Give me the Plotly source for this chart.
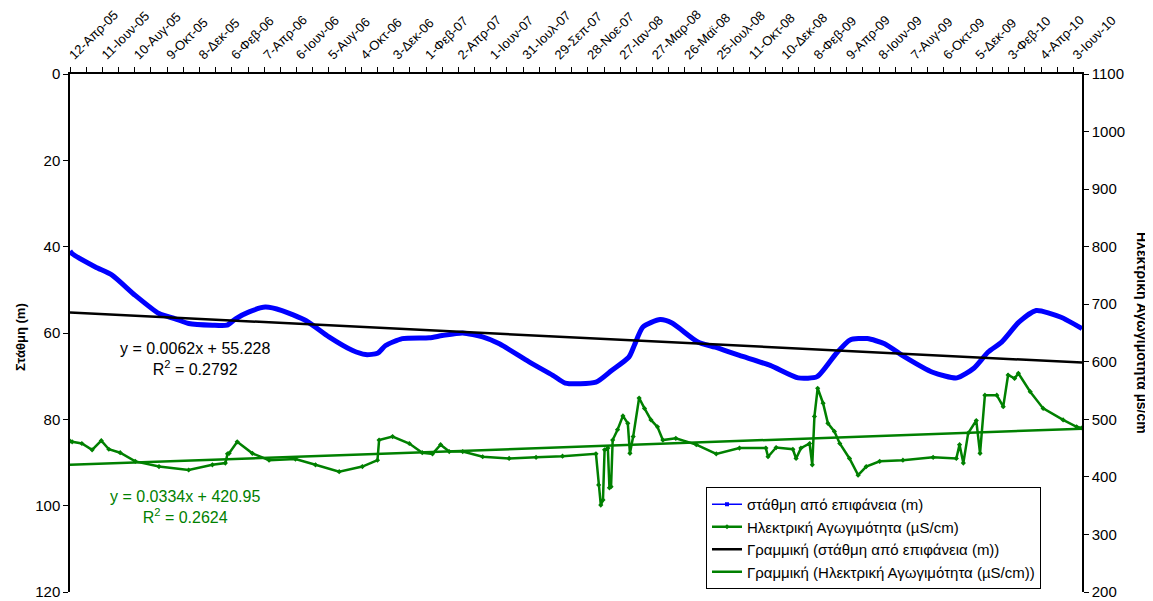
import plotly.graph_objects as go

# category labels shown on the top axis (every 60 records)
date_labels = [
    "12-Απρ-05", "11-Ιουν-05", "10-Αυγ-05", "9-Οκτ-05", "8-Δεκ-05", "6-Φεβ-06",
    "7-Απρ-06", "6-Ιουν-06", "5-Αυγ-06", "4-Οκτ-06", "3-Δεκ-06", "1-Φεβ-07",
    "2-Απρ-07", "1-Ιουν-07", "31-Ιουλ-07", "29-Σεπ-07", "28-Νοε-07", "27-Ιαν-08",
    "27-Μαρ-08", "26-Μαϊ-08", "25-Ιουλ-08", "11-Οκτ-08", "10-Δεκ-08", "8-Φεβ-09",
    "9-Απρ-09", "8-Ιουν-09", "7-Αυγ-09", "6-Οκτ-09", "5-Δεκ-09", "3-Φεβ-10",
    "4-Απρ-10", "3-Ιουν-10",
]
n_records = 1876

# water level below surface (m), record index -> value
level_idx = [0, 4, 47, 78, 121, 165, 195, 220, 264, 291, 307, 332, 362, 393, 437,
             480, 523, 548, 570, 585, 616, 666, 690, 728, 765, 796, 851, 895, 918,
             975, 1004, 1036, 1046, 1062, 1094, 1116, 1164, 1196, 1241, 1298, 1350,
             1385, 1420, 1446, 1478, 1510, 1548, 1599, 1644, 1676, 1702, 1727, 1759,
             1791, 1836, 1876]
level_m = [41.0, 41.6, 44.7, 46.6, 51.3, 55.5, 56.7, 57.8, 58.2, 58.2, 56.7, 55.1,
           54.0, 54.8, 57.1, 60.9, 64.0, 65.0, 64.7, 62.9, 61.3, 61.1, 60.6, 60.0,
           60.9, 62.5, 66.7, 69.8, 71.6, 71.4, 68.7, 65.6, 62.9, 58.6, 56.9, 57.7,
           62.1, 63.3, 65.2, 67.5, 70.4, 70.1, 64.8, 61.6, 61.3, 62.5, 65.6, 69.1,
           70.4, 68.1, 64.4, 62.1, 57.5, 54.8, 56.3, 59.0]

# electrical conductivity (µS/cm)
ec_idx = [0, 4, 22, 41, 58, 72, 93, 121, 165, 220, 264, 288, 292, 295, 310, 338,
          369, 418, 455, 499, 542, 570, 573, 598, 629, 653, 672, 687, 703, 728, 765,
          814, 864, 913, 975, 980, 984, 988, 991, 997, 1000, 1003, 1006, 1015, 1025,
          1034, 1038, 1044, 1055, 1065, 1077, 1089, 1099, 1123, 1161, 1198, 1241,
          1290, 1294, 1309, 1340, 1346, 1355, 1371, 1376, 1380, 1386, 1396, 1405,
          1417, 1427, 1445, 1461, 1476, 1501, 1544, 1600, 1643, 1649, 1656, 1665,
          1680, 1687, 1696, 1718, 1730, 1739, 1751, 1758, 1780, 1804, 1841, 1866, 1876]
ec_vals = [462, 461, 458, 447, 463, 448, 442, 427, 418, 412, 421, 424, 440, 441, 461,
           441, 429, 431, 421, 409, 418, 429, 464, 470, 458, 442, 440, 456, 444, 444,
           435, 432, 434, 436, 440, 386, 351, 360, 447, 450, 381, 383, 464, 482, 506,
           493, 441, 470, 537, 519, 499, 487, 464, 467, 456, 440, 450, 450, 435, 451,
           448, 432, 450, 458, 421, 505, 554, 528, 493, 479, 458, 432, 403, 418, 427,
           429, 434, 432, 456, 424, 476, 498, 441, 542, 542, 522, 577, 571, 580, 548,
           519, 499, 487, 485]

# linear trendlines as reported on the chart
level_slope, level_icpt, level_r2 = 0.0062, 55.228, "0.2792"
ec_slope, ec_icpt, ec_r2 = 0.0334, 420.95, "0.2624"

FONT = "Arial, Liberation Sans, sans-serif"
BLUE = "#0000ff"
GREEN = "#008000"

# page body has an 8px margin, so the figure is sized to fit the window
W, H = 1145, 593
ML, MT, PW, PH = 62, 66, 1012, 518
OFF_X, OFF_Y = 10, 8


def px_x(px):
    """paper x for an absolute window pixel"""
    return (px - OFF_X - ML + 2) / PW


def px_y(py):
    """paper y for an absolute window pixel"""
    return (MT + PH - (py - OFF_Y)) / PH


fig = go.Figure()

# thick blue curve (dense markers in the original), legend shown with a thin line
fig.add_trace(go.Scatter(
    x=level_idx, y=level_m, mode="lines",
    line=dict(color=BLUE, width=5, shape="spline", smoothing=0.6),
    showlegend=False, hoverinfo="x+y",
))
fig.add_trace(go.Scatter(
    x=[None], y=[None], mode="lines+markers",
    line=dict(color=BLUE, width=1.5),
    marker=dict(symbol="square", size=4, color=BLUE),
    name="στάθμη από επιφάνεια (m)",
))
fig.add_trace(go.Scatter(
    x=ec_idx, y=ec_vals, mode="lines+markers", yaxis="y2",
    line=dict(color=GREEN, width=2.5),
    marker=dict(symbol="diamond", size=4, color=GREEN),
    name="Ηλεκτρική Αγωγιμότητα (µS/cm)",
))
trend_x = [0, n_records]
fig.add_trace(go.Scatter(
    x=trend_x, y=[level_icpt + level_slope * v for v in trend_x], mode="lines",
    line=dict(color="black", width=2.5),
    name="Γραμμική (στάθμη από επιφάνεια (m))",
))
fig.add_trace(go.Scatter(
    x=trend_x, y=[ec_icpt + ec_slope * v for v in trend_x], mode="lines", yaxis="y2",
    line=dict(color=GREEN, width=2.5),
    name="Γραμμική (Ηλεκτρική Αγωγιμότητα (µS/cm))",
))

tick_vals = list(range(0, n_records, 30))
tick_text = [date_labels[i // 2] if i % 2 == 0 and i // 2 < len(date_labels) else " "
             for i in range(len(tick_vals))]

fig.update_layout(
    width=W, height=H,
    margin=dict(l=ML, r=W - ML - PW, t=MT, b=H - MT - PH),
    paper_bgcolor="white", plot_bgcolor="white",
    font=dict(family=FONT, size=13, color="black"),
    xaxis=dict(
        range=[0, n_records], side="top", showgrid=False, zeroline=False,
        showline=True, linecolor="black", linewidth=1.5, automargin=False,
        tickmode="array", tickvals=tick_vals, ticktext=tick_text,
        ticks="outside", ticklen=5, tickcolor="black", tickangle=-45,
        tickfont=dict(size=13),
    ),
    yaxis=dict(
        range=[120, 0], tickvals=[0, 20, 40, 60, 80, 100, 120], automargin=False,
        showgrid=False, zeroline=False, showline=True, linecolor="black",
        linewidth=1.5, ticks="outside", ticklen=5, tickcolor="black",
        tickfont=dict(size=15),
    ),
    yaxis2=dict(
        range=[200, 1100], dtick=100, overlaying="y", side="right", automargin=False,
        showgrid=False, zeroline=False, showline=True, linecolor="black",
        linewidth=1.5, ticks="outside", ticklen=5, tickcolor="black",
        tickfont=dict(size=15),
    ),
    legend=dict(
        x=px_x(706), y=px_y(487), xanchor="left", yanchor="top",
        bgcolor="white", bordercolor="black", borderwidth=1,
        font=dict(size=15), tracegroupgap=0, itemwidth=30,
    ),
    showlegend=True,
)

annotations = [
    dict(text="<b>Στάθμη (m)</b>", x=px_x(20), y=px_y(337), xref="paper", yref="paper",
         textangle=-90, showarrow=False, font=dict(size=13),
         xanchor="center", yanchor="middle"),
    dict(text="<b>Ηλεκτρική Αγωγιμότητα µs/cm</b>", x=px_x(1142), y=px_y(333),
         xref="paper", yref="paper", textangle=90, showarrow=False,
         font=dict(size=14), xanchor="center", yanchor="middle"),
    dict(text=f"y = {level_slope}x + {level_icpt}<br>R<sup>2</sup> = {level_r2}",
         x=px_x(195), y=px_y(359), xref="paper", yref="paper",
         showarrow=False, font=dict(size=16, color="black"), align="center",
         xanchor="center", yanchor="middle"),
    dict(text=f"y = {ec_slope}x + {ec_icpt}<br>R<sup>2</sup> = {ec_r2}",
         x=px_x(185), y=px_y(507), xref="paper", yref="paper",
         showarrow=False, font=dict(size=16, color=GREEN), align="center",
         xanchor="center", yanchor="middle"),
]
fig.update_layout(annotations=annotations)

fig.write_html("out.html")
